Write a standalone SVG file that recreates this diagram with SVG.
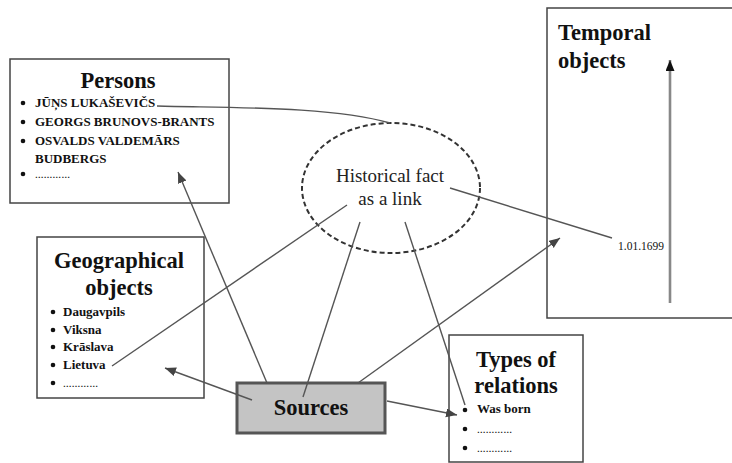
<svg xmlns="http://www.w3.org/2000/svg" width="732" height="463" viewBox="0 0 732 463">
<style>
.box{fill:#fff;stroke:#444;stroke-width:1.5}
.title{font-family:"Liberation Serif",serif;font-weight:bold;font-size:22.5px;fill:#111}
.item{font-family:"Liberation Serif",serif;font-weight:bold;font-size:13px;fill:#111}
.dots{font-family:"Liberation Serif",serif;font-weight:bold;font-size:8.5px;fill:#111;letter-spacing:0.3px}
.fact{font-family:"Liberation Serif",serif;font-size:19px;fill:#222}
.date{font-family:"Liberation Serif",serif;font-size:11.5px;fill:#111}
.bul{fill:#111}
.conn{fill:none;stroke:#555;stroke-width:1.4}
</style>
<defs>
<marker id="ah" markerUnits="userSpaceOnUse" markerWidth="12" markerHeight="10" refX="11" refY="4.5" orient="auto">
<path d="M0,0 L11,4.5 L0,9 z" fill="#444"/>
</marker>
<marker id="ahk" markerUnits="userSpaceOnUse" markerWidth="12" markerHeight="10" refX="11" refY="4.5" orient="auto">
<path d="M0,0 L11,4.5 L0,9 z" fill="#111"/>
</marker>
</defs>
<rect width="732" height="463" fill="#fff"/>

<g id="persons">
<rect class="box" x="10" y="59" width="219" height="144"/>
<text class="title" x="118" y="88" text-anchor="middle">Persons</text>
<circle class="bul" cx="23" cy="103" r="2.3"/>
<text class="item" x="35" y="107">JŪŅS LUKAŠEVIČS</text>
<circle class="bul" cx="23" cy="122" r="2.3"/>
<text class="item" x="35" y="126">GEORGS BRUNOVS-BRANTS</text>
<circle class="bul" cx="23" cy="141" r="2.3"/>
<text class="item" x="35" y="145">OSVALDS VALDEMĀRS</text>
<text class="item" x="35" y="163">BUDBERGS</text>
<circle class="bul" cx="23" cy="174" r="2.3"/>
<text class="dots" x="35" y="178">…………</text>
</g>

<g id="geographical">
<rect class="box" x="37" y="237" width="167" height="161"/>
<text class="title" x="119" y="268" text-anchor="middle">Geographical</text>
<text class="title" x="119" y="295" text-anchor="middle">objects</text>
<circle class="bul" cx="53" cy="312" r="2.3"/>
<text class="item" x="63" y="316">Daugavpils</text>
<circle class="bul" cx="53" cy="330" r="2.3"/>
<text class="item" x="63" y="334">Viksna</text>
<circle class="bul" cx="53" cy="347" r="2.3"/>
<text class="item" x="63" y="351">Krāslava</text>
<circle class="bul" cx="53" cy="365" r="2.3"/>
<text class="item" x="63" y="369">Lietuva</text>
<circle class="bul" cx="53" cy="383" r="2.3"/>
<text class="dots" x="63" y="387">…………</text>
</g>

<g id="historical-fact">
<ellipse cx="391" cy="188" rx="89" ry="65" fill="#fff" stroke="#333" stroke-width="2" stroke-dasharray="5,3"/>
<text class="fact" x="390" y="182" text-anchor="middle">Historical fact</text>
<text class="fact" x="390" y="205" text-anchor="middle">as a link</text>
</g>

<g id="temporal">
<rect class="box" x="547" y="8" width="186" height="310"/>
<text class="title" x="558" y="40">Temporal</text>
<text class="title" x="558" y="68">objects</text>
<line x1="670" y1="303" x2="670" y2="60" stroke="#888" stroke-width="2.6" marker-end="url(#ahk)"/>
<text class="date" x="618" y="250">1.01.1699</text>
</g>

<g id="types">
<rect class="box" x="449" y="335" width="134" height="127"/>
<text class="title" x="516" y="367" text-anchor="middle">Types of</text>
<text class="title" x="516" y="393" text-anchor="middle">relations</text>
<circle class="bul" cx="465" cy="410" r="2.3"/>
<text class="item" x="477" y="413">Was born</text>
<circle class="bul" cx="465" cy="429" r="2.3"/>
<text class="dots" x="477" y="433">…………</text>
<circle class="bul" cx="465" cy="448" r="2.3"/>
<text class="dots" x="477" y="452">…………</text>
</g>

<g id="sources">
<rect x="237" y="383" width="148" height="50" fill="#c4c4c4" stroke="#555" stroke-width="3"/>
<text class="title" x="311" y="415" text-anchor="middle">Sources</text>
</g>

<g id="connectors">
<path class="conn" d="M157,106 C230,108 330,106 390,123" stroke="#333" stroke-width="1.5"/>
<line class="conn" x1="267" y1="383" x2="178" y2="172" marker-end="url(#ah)"/>
<line class="conn" x1="252" y1="400" x2="165" y2="368" marker-end="url(#ah)"/>
<line class="conn" x1="387" y1="401" x2="457" y2="415" marker-end="url(#ah)"/>
<line class="conn" x1="358" y1="383" x2="560" y2="238" marker-end="url(#ah)"/>
<line class="conn" x1="303" y1="397" x2="360" y2="222"/>
<line class="conn" x1="405" y1="222" x2="465" y2="405"/>
<line class="conn" x1="112" y1="366" x2="347" y2="205"/>
<line class="conn" x1="450" y1="188" x2="612" y2="238"/>
</g>
</svg>
